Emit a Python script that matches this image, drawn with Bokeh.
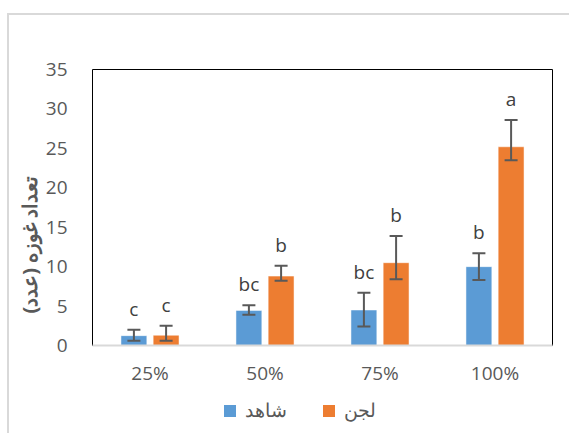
from bokeh.plotting import figure
from bokeh.models import (ColumnDataSource, FactorRange, Range1d, Whisker, TeeHead,
                          LabelSet, Legend, LegendItem, Spacer, Title)
from bokeh.layouts import column, row
from bokeh.transform import dodge
from bokeh.core.properties import value
from bokeh.embed import file_html
from bokeh.resources import INLINE

categories = ["25%", "50%", "75%", "100%"]
control = [1.25, 4.45, 4.5, 10.0]
control_upper = [2.0, 5.1, 6.7, 11.7]
control_lower = [0.6, 3.9, 2.4, 8.3]
control_letters = ["c", "bc", "bc", "b"]
sludge = [1.3, 8.8, 10.5, 25.2]
sludge_upper = [2.5, 10.1, 13.9, 28.6]
sludge_lower = [0.6, 8.2, 8.4, 23.5]
sludge_letters = ["c", "b", "b", "a"]
y_ticks = [0, 5, 10, 15, 20, 25, 30, 35]
series_names = ["شاهد", "لجن"]
y_title = "تعداد غوزه (عدد)"

FONT = "Open Sans"
TXT = "#595959"
BLUE = "#5B9BD5"
ORANGE = "#ED7D31"

src = ColumnDataSource(dict(cat=categories,
                            c=control, cu=control_upper, cl=control_lower, clet=control_letters,
                            s=sludge, su=sludge_upper, sl=sludge_lower, slet=sludge_letters))

W = 562
p = figure(width=W, height=377, x_range=FactorRange(*categories), y_range=Range1d(0, 35),
           output_backend="svg", toolbar_location=None,
           min_border_left=83, min_border_right=19, min_border_top=54, min_border_bottom=47)

off = 0.14
w = 0.225
p.vbar(x=dodge("cat", -off, range=p.x_range), top="c", width=w, source=src,
       fill_color=BLUE, line_color="white", line_width=0.5)
p.vbar(x=dodge("cat", off, range=p.x_range), top="s", width=w, source=src,
       fill_color=ORANGE, line_color="white", line_width=0.5)

for base, up, lo in [(-off, "cu", "cl"), (off, "su", "sl")]:
    wk = Whisker(base=dodge("cat", base, range=p.x_range), upper=up, lower=lo, source=src,
                 line_color="#595959", line_width=2, level="annotation",
                 upper_head=TeeHead(size=13, line_color="#595959", line_width=2),
                 lower_head=TeeHead(size=13, line_color="#595959", line_width=2))
    p.add_layout(wk)

for base, up, let in [(-off, "cu", "clet"), (off, "su", "slet")]:
    ls = LabelSet(x=dodge("cat", base, range=p.x_range), y=up, text=let, source=src,
                  y_offset=14, text_align="center", text_baseline="alphabetic",
                  text_font=value(FONT), text_font_size="19px", text_color="#404040")
    p.add_layout(ls)

p.xgrid.visible = False
p.ygrid.visible = False
p.outline_line_color = "black"
p.outline_line_width = 1

p.yaxis.ticker = y_ticks
p.yaxis.axis_line_color = None
p.yaxis.major_tick_line_color = None
p.yaxis.minor_tick_line_color = None
p.yaxis.major_label_text_font = FONT
p.yaxis.major_label_text_font_size = "19px"
p.yaxis.major_label_text_color = TXT
p.yaxis.major_label_standoff = 19

ytitle = Title(text=y_title, align="left", offset=32, standoff=0,
               text_font=FONT, text_font_size="20px", text_font_style="bold",
               text_color=TXT)
p.add_layout(ytitle, "left")

p.xaxis.axis_line_color = "#d9d9d9"
p.xaxis.axis_line_width = 2
p.xaxis.major_tick_line_color = None
p.xaxis.minor_tick_line_color = None
p.xaxis.major_label_text_font = FONT
p.xaxis.major_label_text_font_size = "19px"
p.xaxis.major_label_text_color = TXT
p.xaxis.major_label_standoff = 8

# legend strip: zero-width bars, only their legend swatches show
lf = figure(width=W, height=43, x_range=FactorRange(*categories), y_range=Range1d(100, 101),
            output_backend="svg", toolbar_location=None, min_border=0)
lf.axis.visible = False
lf.grid.visible = False
lf.outline_line_color = None
g1 = lf.vbar(x="cat", top="c", width=0, source=src, fill_color=BLUE, line_color=None)
g2 = lf.vbar(x="cat", top="s", width=0, source=src, fill_color=ORANGE, line_color=None)
legend = Legend(items=[LegendItem(label=series_names[0], renderers=[g1]),
                       LegendItem(label=series_names[1], renderers=[g2])],
                orientation="horizontal", location=(130, 12),
                label_text_font=FONT, label_text_font_size="19px", label_text_color=TXT,
                glyph_width=15, glyph_height=15, label_standoff=8, spacing=34,
                border_line_color=None, background_fill_alpha=0, margin=0, padding=6)
lf.add_layout(legend)

inner = column(p, lf, spacing=0, styles={"box-shadow": "-2px -2px 0 0 #d9d9d9"})
layout = row(Spacer(width=9), column(Spacer(height=15), inner, spacing=0), spacing=0)

open("out.html", "w").write(file_html(layout, INLINE))
